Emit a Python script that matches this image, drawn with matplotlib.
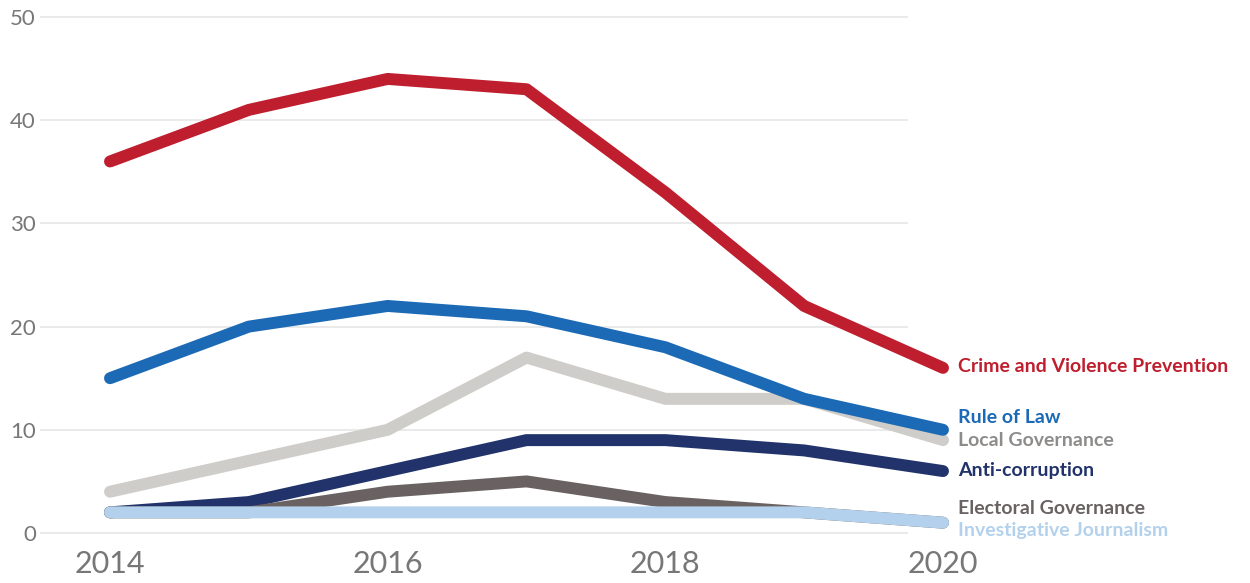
import matplotlib.pyplot as plt

years = [2014, 2015, 2016, 2017, 2018, 2019, 2020]

crime = [36, 41, 44, 43, 33, 22, 16]
rule_of_law = [15, 20, 22, 21, 18, 13, 10]
local_gov = [4, 7, 10, 17, 13, 13, 9]
anti_corruption = [2, 3, 6, 9, 9, 8, 6]
electoral = [2, 2, 4, 5, 3, 2, 1]
investigative = [2, 2, 2, 2, 2, 2, 1]

# name, values, line colour, label colour, label y
series = [
    ('Local Governance', local_gov, '#CFCDCA', '#8E8C8A', 9.0),
    ('Rule of Law', rule_of_law, '#1C6AB5', '#1C6AB5', 11.2),
    ('Crime and Violence Prevention', crime, '#BE1E2D', '#BE1E2D', 16.1),
    ('Anti-corruption', anti_corruption, '#21336A', '#21336A', 6.1),
    ('Electoral Governance', electoral, '#6A6262', '#6A6262', 2.4),
    ('Investigative Journalism', investigative, '#B3D1EC', '#B3D1EC', 0.2),
]

fig = plt.figure(figsize=(12.5, 5.83), dpi=100)
ax = fig.add_axes([40 / 1250, 50 / 583, 1210 / 1250, 516 / 583])

px_per_year = 833 / 6
x_left = 2014 - 70 / px_per_year
x_grid_end = 2014 + 798 / px_per_year
x_right = x_left + 1210 / px_per_year
ax.set_xlim(x_left, x_right)
ax.set_ylim(0, 50)

#gridlines only up to just before 2020
ax.hlines([0, 10, 20, 30, 40, 50], x_left, x_grid_end, color='#E6E6E6',
          linewidth=1.2, zorder=0, clip_on=False)

for i, (name, vals, col, tcol, ly) in enumerate(series):
    ax.plot(years, vals, color=col, linewidth=8.6, solid_capstyle='round',
            solid_joinstyle='round', zorder=2 + i, clip_on=False)
    ax.text(2020.11, ly, name, color=tcol, fontsize=14, fontweight='bold',
            family='Lato', va='center', ha='left')

for s in ax.spines.values():
    s.set_visible(False)

ax.set_yticks([0, 10, 20, 30, 40, 50])
ax.set_xticks([2014, 2016, 2018, 2020])
ax.tick_params(axis='y', length=0, pad=3, labelsize=16, labelcolor='#777777')
ax.tick_params(axis='x', length=0, pad=12, labelsize=22, labelcolor='#777777')
for lab in ax.get_xticklabels() + ax.get_yticklabels():
    lab.set_family('Lato')
    lab.set_fontweight('normal')

plt.savefig('out.png', dpi=100)
